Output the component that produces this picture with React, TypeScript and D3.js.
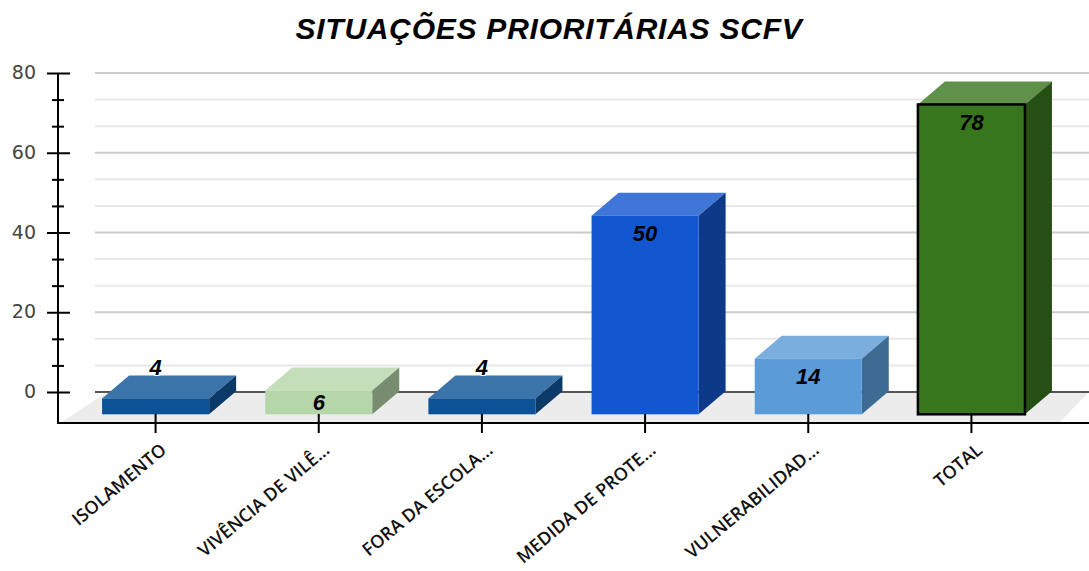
import React, { useEffect, useRef } from 'react';
import * as d3 from 'd3';

const categories = ['ISOLAMENTO', 'VIVÊNCIA DE VILÊ...', 'FORA DA ESCOLA...', 'MEDIDA DE PROTE...', 'VULNERABILIDAD...', 'TOTAL'];
const values = [4, 6, 4, 50, 14, 78];
const frontColors = ['#0d5296', '#b5d6a8', '#0d5296', '#1257cf', '#5b9bd8', '#38761d'];
const topColors = ['#3b74a9', '#c4deb9', '#3b74a9', '#4176d9', '#7aaede', '#5f914a'];
const sideColors = ['#0b3a69', '#788d70', '#0b3a69', '#0d3a88', '#3e6b93', '#264f14'];
const majorTicks = [0, 20, 40, 60, 80];
const minorTicks = [20 / 3, 40 / 3, 80 / 3, 100 / 3, 140 / 3, 160 / 3, 200 / 3, 220 / 3];

const W = 1089;
const H = 571;
const depthX = 27;
const depthY = 23;

const labelOffset = (d: number) => {
  if (d === 4) return -23; // sits above the short bars
  if (d === 6) return 19.5;
  return 25.5;
};

const App = () => {
  const svgRef = useRef<SVGSVGElement>(null);

  useEffect(() => {
    const svg = d3.select(svgRef.current);
    svg.selectAll('*').remove();

    const x = d3.scaleBand().domain(categories).range([74, 1053]).paddingInner(0.344).paddingOuter(0.172);
    // back wall scale for the axis, front scale for the bars
    const y = d3.scaleLinear().domain([0, 80]).range([392, 73]);
    const yFront = d3.scaleLinear().domain([0, 80]).range([414.3, 96.5]);

    const grid = svg.append('g');
    grid.selectAll('line.minor').data(minorTicks).enter().append('line')
      .attr('x1', 95).attr('x2', W).attr('y1', d => y(d)).attr('y2', d => y(d))
      .attr('stroke', '#e8e8e8').attr('stroke-width', 2);
    grid.selectAll('line.major').data(majorTicks.filter(d => d > 0)).enter().append('line')
      .attr('x1', 95).attr('x2', W).attr('y1', d => y(d)).attr('y2', d => y(d))
      .attr('stroke', '#cccccc').attr('stroke-width', 2);

    // floor
    svg.append('path')
      .attr('d', `M60,423L${95 + 12},${y(0)}L${W},${y(0)}L1059,423Z`)
      .attr('fill', '#ececec');
    svg.append('line')
      .attr('x1', 95).attr('x2', W).attr('y1', y(0)).attr('y2', y(0))
      .attr('stroke', '#555555').attr('stroke-width', 2);

    const bars = svg.append('g').selectAll('g').data(categories).enter().append('g');
    bars.each(function (c, i) {
      const g = d3.select(this);
      const x0 = x(c)!;
      const x1 = x0 + x.bandwidth();
      const top = yFront(values[i]);
      const base = yFront(0);
      g.append('path')
        .attr('d', `M${x0},${top}L${x0 + depthX},${top - depthY}L${x1 + depthX},${top - depthY}L${x1},${top}Z`)
        .attr('fill', topColors[i]);
      g.append('path')
        .attr('d', `M${x1},${top}L${x1 + depthX},${top - depthY}L${x1 + depthX},${base - depthY}L${x1},${base}Z`)
        .attr('fill', sideColors[i]);
      g.append('rect')
        .attr('x', x0).attr('y', top).attr('width', x.bandwidth()).attr('height', base - top)
        .attr('fill', frontColors[i])
        .attr('stroke', c === 'TOTAL' ? '#000000' : 'none')
        .attr('stroke-width', 2.5);
    });

    // y axis
    const axisY = svg.append('g').attr('transform', 'translate(58,0)');
    axisY.call(d3.axisLeft(y).tickValues(majorTicks).tickSize(11).tickPadding(11).tickFormat(d3.format('d')) as any);
    axisY.select('.domain').remove();
    axisY.selectAll('.tick line').attr('x1', -11).attr('x2', 12).attr('stroke', '#000').attr('stroke-width', 2);
    axisY.selectAll('.tick text')
      .attr('x', -22)
      .attr('dy', '0.3em')
      .attr('fill', '#444444')
      .style('font-family', '"DejaVu Sans", sans-serif')
      .style('font-size', '19px');

    const axisMinor = svg.append('g').attr('transform', 'translate(58,0)');
    axisMinor.call(d3.axisLeft(y).tickValues(minorTicks).tickSize(6).tickFormat(() => '') as any);
    axisMinor.select('.domain').remove();
    axisMinor.selectAll('.tick line').attr('x1', -6).attr('x2', 6).attr('stroke', '#000').attr('stroke-width', 2);

    svg.append('line')
      .attr('x1', 58).attr('x2', 58).attr('y1', 73).attr('y2', 424)
      .attr('stroke', '#000').attr('stroke-width', 2);

    // x axis
    const axisX = svg.append('g').attr('transform', 'translate(0,423)');
    axisX.call(d3.axisBottom(x).tickSize(10).tickPadding(12) as any);
    axisX.select('.domain').remove();
    axisX.selectAll('.tick line').attr('y1', -9).attr('y2', 10).attr('stroke', '#000').attr('stroke-width', 2);
    axisX.selectAll('.tick text')
      .attr('text-anchor', 'end')
      .attr('transform', 'translate(8,24) rotate(-40)')
      .attr('y', 0).attr('dy', '0.35em')
      .attr('fill', '#111111')
      .style('font-family', '"Open Sans", sans-serif')
      .style('font-weight', 600)
      .style('font-size', '18px');
    svg.append('line')
      .attr('x1', 57).attr('x2', W).attr('y1', 423).attr('y2', 423)
      .attr('stroke', '#000').attr('stroke-width', 2);

    // value labels
    svg.append('g').selectAll('text').data(values).enter().append('text')
      .attr('x', (d, i) => x(categories[i])! + x.bandwidth() / 2)
      .attr('y', d => yFront(d) + labelOffset(d))
      .attr('text-anchor', 'middle')
      .attr('paint-order', 'stroke')
      .attr('stroke', d => (d === 4 ? '#ffffff' : 'none'))
      .attr('stroke-width', 2)
      .attr('fill', '#000')
      .style('font-family', '"Liberation Sans", Arial, sans-serif')
      .style('font-weight', 'bold')
      .style('font-style', 'italic')
      .style('font-size', '22px')
      .text(d => d);

    svg.append('text')
      .attr('x', 549).attr('y', 39)
      .attr('text-anchor', 'middle')
      .attr('fill', '#000')
      .style('font-family', '"Liberation Sans", Arial, sans-serif')
      .style('font-weight', 'bold')
      .style('font-style', 'italic')
      .style('font-size', '30px')
      .style('letter-spacing', '0.75px')
      .text('SITUAÇÕES PRIORITÁRIAS SCFV');
  }, []);

  return <svg ref={svgRef} width={W} height={H} style={{ position: 'absolute', left: 0, top: 0, background: '#fff' }} />;
};

export default App;
